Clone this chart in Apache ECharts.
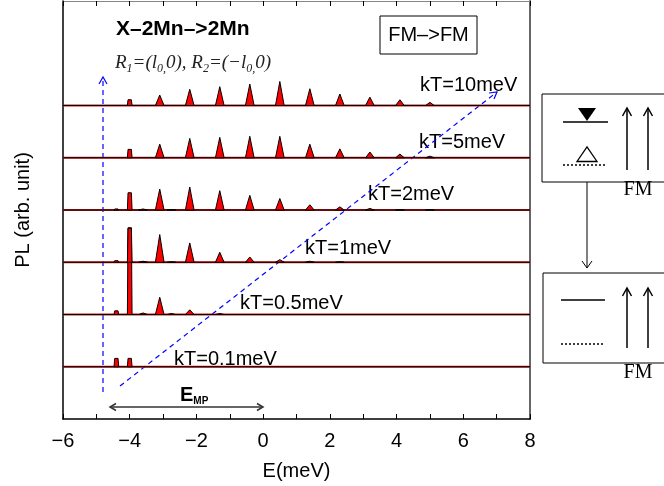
<!DOCTYPE html>
<html>
<head>
<meta charset="utf-8">
<script src="https://cdn.jsdelivr.net/npm/echarts@6/dist/echarts.min.js"></script>
<style>
  html, body { margin: 0; padding: 0; background: #fff; }
  #chart { width: 664px; height: 486px; }
</style>
</head>
<body>
<div id="chart"></div>
<script>
// trace names, bottom to top; each trace sits on its own baseline offset
const kTLabels = ['kT=0.1meV', 'kT=0.5meV', 'kT=1meV', 'kT=2meV', 'kT=5meV', 'kT=10meV']
const offsets = [0, 1, 2, 3, 4, 5]

// peak energies (meV), shared by all traces
const peakE = [-4.4, -4.0, -3.6, -3.1, -2.75, -2.2, -1.3, -0.4, 0.5, 1.4, 2.3, 3.2, 4.1, 5.0]

// peak heights (arb. units)
const h01 = [0.16, 0.16, 0, 0, 0, 0, 0, 0, 0, 0, 0, 0, 0, 0]
const h05 = [0.07, 1.66, 0.03, 0.33, 0.02, 0.09, 0.02, 0, 0, 0, 0, 0, 0, 0]
const h1 = [0.03, 0.65, 0.02, 0.53, 0.01, 0.37, 0.19, 0.10, 0.05, 0.02, 0.01, 0, 0, 0]
const h2 = [0.02, 0.33, 0.02, 0.40, 0.01, 0.44, 0.37, 0.28, 0.22, 0.10, 0.06, 0.03, 0.01, 0.01]
const h5 = [0, 0.16, 0, 0.26, 0, 0.37, 0.39, 0.41, 0.41, 0.26, 0.17, 0.11, 0.07, 0.03]
const h10 = [0, 0.11, 0, 0.20, 0, 0.31, 0.36, 0.41, 0.46, 0.32, 0.22, 0.16, 0.11, 0.06]
const heights = [h01, h05, h1, h2, h5, h10]

const xMin = -6
const xMax = 8

const SANS = '"Liberation Sans", Arial, Helvetica, sans-serif'
const SERIF = '"Liberation Serif", "Times New Roman", serif'

const chart = echarts.init(document.getElementById('chart'), null, { renderer: 'canvas' })

// spikes: narrow boxes for the lowest lines, triangles elsewhere
const renderPeak = (params, api) => {
  const e = api.value(0)
  const base = api.value(1)
  const h = api.value(2)
  const narrow = e < -3.9
  const w = narrow ? 0.07 : 0.13
  const t = narrow ? 0.05 : 0
  const pts = [[e - w, base], [e - t, base + h], [e + t, base + h], [e + w, base]].map(p => api.coord(p))
  return {
    type: 'polygon',
    shape: { points: pts },
    style: { fill: '#ff0000', stroke: '#000', lineWidth: 1 },
  }
}

const series = []
offsets.forEach((off, k) => {
  const baseLine = [[xMin, off], [xMax, off]]
  series.push({
    type: 'line', data: baseLine, symbol: 'none', silent: true, z: 2,
    lineStyle: { color: '#c81818', width: 2.2 },
  })
  series.push({
    type: 'line', data: baseLine, symbol: 'none', silent: true, z: 3,
    lineStyle: { color: '#000', width: 1.2 },
  })
  series.push({
    type: 'custom', renderItem: renderPeak, z: 4, silent: true,
    data: peakE.map((e, i) => [e, off, heights[k][i]]).filter(d => d[2] > 0),
  })
})

// little helpers for the annotation drawings
const seg = (x1, y1, x2, y2, style) => ({ type: 'line', shape: { x1, y1, x2, y2 }, style: Object.assign({ stroke: '#000', lineWidth: 1 }, style) })
const chevron = (points, style) => ({ type: 'polyline', shape: { points }, style: Object.assign({ stroke: '#000', lineWidth: 1, fill: null }, style) })
const txt = (text, x, y, font, extra) => ({
  type: 'text',
  style: Object.assign({ text, x, y, font, fill: '#000', textVerticalAlign: 'middle', verticalAlign: 'middle' }, extra),
})

const labelPos = [[174, 359], [240, 303], [305, 248], [368, 194], [419, 142], [420, 85]]

const blue = { stroke: '#0000ff', lineWidth: 1.2, lineDash: [5, 4] }
const upArrow = (x, yTop, yBottom) => [
  seg(x, yBottom, x, yTop, { lineWidth: 1.5 }),
  chevron([[x - 4.5, yTop + 8], [x, yTop], [x + 4.5, yTop + 8]], { lineWidth: 1.5 }),
]

const graphic = [
  // title texts
  txt('X\u20132Mn\u2013>2Mn', 116, 29, 'bold 21px ' + SANS),
  {
    type: 'text',
    style: {
      x: 115, y: 63, verticalAlign: 'middle', textVerticalAlign: 'middle',
      text: '{i|R}{s|1}{i|=(l}{s|0,}{i|0), R}{s|2}{i|=(\u2212l}{s|0,}{i|0)}',
      rich: {
        i: { font: 'italic 19px ' + SERIF, fill: '#222', lineHeight: 24, verticalAlign: 'middle' },
        s: { font: 'italic 12px ' + SERIF, fill: '#222', lineHeight: 24, verticalAlign: 'bottom' },
      },
    },
  },
  // FM->FM box
  { type: 'rect', shape: { x: 380, y: 16, width: 97, height: 38 }, style: { fill: '#fff', stroke: '#000', lineWidth: 1 } },
  txt('FM\u2013>FM', 428.5, 35, '20px ' + SANS, { align: 'center', textAlign: 'center' }),

  // kT labels
  ...kTLabels.map((t, k) => txt(t, labelPos[k][0], labelPos[k][1], '20px ' + SANS)),

  // blue dashed guides
  seg(103, 392, 103, 78, blue),
  chevron([[99, 84], [103, 77], [107, 84]], { stroke: '#0000ff', lineWidth: 1.2 }),
  seg(120, 386, 497, 92, blue),
  chevron([[489, 93], [497, 92], [494, 99]], { stroke: '#0000ff', lineWidth: 1.2 }),

  // E_MP double arrow
  seg(110, 407, 263, 407, { stroke: '#333', lineWidth: 1.5 }),
  chevron([[116, 403.5], [110, 407], [116, 410.5]], { stroke: '#333', lineWidth: 1.5 }),
  chevron([[257, 403.5], [263, 407], [257, 410.5]], { stroke: '#333', lineWidth: 1.5 }),
  {
    type: 'text',
    style: {
      x: 180, y: 395, verticalAlign: 'middle', textVerticalAlign: 'middle',
      text: '{e|E}{s|MP}',
      rich: {
        e: { font: 'bold 20px ' + SANS, fill: '#000', lineHeight: 22, verticalAlign: 'middle' },
        s: { font: 'bold 10px ' + SANS, fill: '#000', lineHeight: 22, verticalAlign: 'bottom' },
      },
    },
  },

  // schematic: upper box
  { type: 'rect', shape: { x: 542, y: 94, width: 140, height: 88 }, style: { fill: '#fff', stroke: '#000', lineWidth: 1 } },
  seg(563, 122, 608, 122, { lineWidth: 1.5 }),
  { type: 'polygon', shape: { points: [[578, 108], [596, 108], [587, 121]] }, style: { fill: '#000' } },
  seg(563, 165, 607, 165, { lineWidth: 1.5, lineDash: [2, 2] }),
  { type: 'polygon', shape: { points: [[577, 161.5], [597, 161.5], [587, 147]] }, style: { fill: null, stroke: '#000', lineWidth: 1.3 } },
  ...upArrow(627, 108, 170),
  ...upArrow(648, 108, 170),
  txt('FM', 638, 190, '20px ' + SERIF, { align: 'center', textAlign: 'center' }),

  // connector
  seg(587, 182, 587, 268, { lineWidth: 1 }),
  chevron([[582, 261], [587, 268], [592, 261]], { lineWidth: 1 }),

  // schematic: lower box
  { type: 'rect', shape: { x: 543, y: 273, width: 140, height: 90 }, style: { fill: '#fff', stroke: '#000', lineWidth: 1 } },
  seg(561, 300, 605, 300, { lineWidth: 1.5 }),
  seg(561, 344, 605, 344, { lineWidth: 1.5, lineDash: [2, 2] }),
  ...upArrow(627, 288, 348),
  ...upArrow(648, 288, 348),
  txt('FM', 638, 373, '20px ' + SERIF, { align: 'center', textAlign: 'center' }),
]

// ticks every 1 meV, labels every 2 meV
const evenLabel = v => (v % 2 !== 0 ? '' : (v < 0 ? '\u2212' + Math.abs(v) : String(v)))

const option = {
  animation: false,
  backgroundColor: '#fff',
  grid: { left: 63, right: 134, top: 1, bottom: 66 },
  xAxis: [
    {
      type: 'value', min: xMin, max: xMax, interval: 1,
      name: 'E(meV)', nameLocation: 'middle', nameGap: 42,
      nameTextStyle: { fontSize: 20, fontFamily: SANS, color: '#000' },
      axisLine: { onZero: false, lineStyle: { color: '#000', width: 1.5 } },
      axisTick: { show: true, inside: true, length: 5, lineStyle: { color: '#000', width: 1 } },
      axisLabel: { fontSize: 20, fontFamily: SANS, color: '#000', margin: 12, formatter: evenLabel },
      splitLine: { show: false },
    },
    {
      type: 'value', position: 'top', min: xMin, max: xMax, interval: 1,
      axisLine: { show: true, onZero: false, lineStyle: { color: '#888', width: 1 } },
      axisTick: { show: true, inside: true, length: 5, lineStyle: { color: '#000', width: 1 } },
      axisLabel: { show: false },
      splitLine: { show: false },
    },
  ],
  yAxis: [
    {
      type: 'value', min: -1, max: 7,
      name: 'PL (arb. unit)', nameLocation: 'middle', nameGap: 30, nameRotate: 90,
      nameTextStyle: { fontSize: 20, fontFamily: SANS, color: '#000' },
      axisLine: { show: true, onZero: false, lineStyle: { color: '#000', width: 1.5 } },
      axisTick: { show: false },
      axisLabel: { show: false },
      splitLine: { show: false },
    },
    {
      type: 'value', position: 'right', min: -1, max: 7,
      axisLine: { show: true, onZero: false, lineStyle: { color: '#666', width: 2 } },
      axisTick: { show: false },
      axisLabel: { show: false },
      splitLine: { show: false },
    },
  ],
  series,
  graphic,
}

chart.setOption(option)
</script>
</body>
</html>
